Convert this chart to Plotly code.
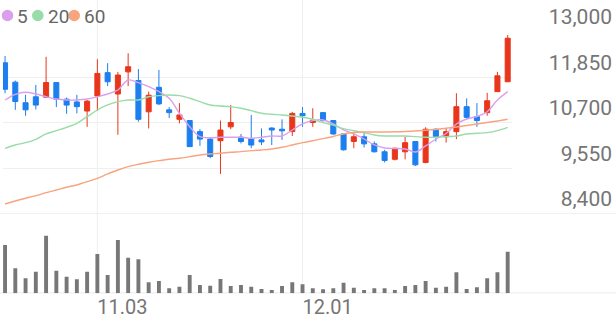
import plotly.graph_objects as go

# ---------------- data ----------------
dates = ["10.21", "10.24", "10.25", "10.26", "10.27", "10.28", "10.31", "11.01", "11.02", "11.03",
         "11.04", "11.07", "11.08", "11.09", "11.10", "11.11", "11.14", "11.15", "11.16", "11.17",
         "11.18", "11.21", "11.22", "11.23", "11.24", "11.25", "11.28", "11.29", "11.30", "12.01",
         "12.02", "12.05", "12.06", "12.07", "12.08", "12.09", "12.12", "12.13", "12.14", "12.15",
         "12.16", "12.19", "12.20", "12.21", "12.22", "12.23", "12.26", "12.27", "12.28", "12.29"]

opens = [12210, 11720, 11200, 11350, 11340, 11710, 11290, 11220, 10990, 11370,
         11960, 11420, 11980, 11760, 10970, 11590, 11020, 10780, 10750, 10470,
         10280, 10240, 10590, 10330, 10280, 10260, 10560, 10530, 10470, 10930,
         10700, 10950, 10750, 10410, 10220, 10340, 10160, 9960, 9770, 9960,
         10220, 9690, 10530, 10340, 10470, 11100, 10850, 10950, 11480, 11730]
highs = [12380, 11760, 11400, 11650, 12360, 11720, 11330, 11400, 11270, 12300,
         12200, 11980, 12450, 12050, 11480, 12030, 11090, 11190, 10760, 10530,
         10330, 10750, 11140, 10410, 10890, 10550, 10580, 10780, 10970, 11090,
         11060, 10960, 10760, 10420, 10430, 10430, 10220, 10010, 10060, 10340,
         10230, 10580, 10550, 10550, 11440, 11310, 11190, 11450, 11980, 12910]
lows = [11440, 11020, 10870, 11030, 11320, 11090, 10920, 10930, 10590, 10990,
        11620, 10390, 11620, 10720, 10550, 11140, 10810, 10680, 10080, 10110,
        9800, 9400, 10530, 10170, 10050, 10130, 10130, 10260, 10360, 10590,
        10590, 10720, 10390, 9990, 10050, 10070, 9940, 9690, 9740, 9770,
        9600, 9670, 10220, 10190, 10280, 10780, 10590, 10870, 11470, 11720]
closes = [11540, 11230, 11020, 11140, 11710, 11290, 11140, 11100, 11240, 11940,
          11730, 11900, 12110, 10780, 11390, 11170, 10950, 10890, 10090, 10280,
          9840, 10510, 10700, 10220, 10130, 10210, 10510, 10490, 10930, 10870,
          10760, 10750, 10410, 10010, 10340, 10160, 9960, 9740, 10050, 10190,
          9630, 10530, 10340, 10470, 11100, 10830, 10750, 11250, 11880, 12830]

ma5 = [11269, 11413, 11464, 11421, 11352, 11294, 11269, 11269, 11294, 11352,
       11421, 11522, 11774, 11706, 11605, 11479, 11312, 10933, 10594, 10342,
       10316, 10326, 10326, 10326, 10301, 10326, 10359, 10359, 10511, 10663,
       10746, 10764, 10663, 10511, 10410, 10283, 10132, 10056, 10043, 10031,
       9955, 10107, 10283, 10422, 10663, 10789, 10852, 10973, 11269, 11479]
ma20 = [10048, 10132, 10190, 10276, 10410, 10493, 10579, 10680, 10847, 11016,
        11143, 11226, 11269, 11269, 11352, 11378, 11395, 11378, 11312, 11226,
        11143, 11117, 11100, 11059, 10999, 10933, 10908, 10890, 10865, 10832,
        10781, 10695, 10637, 10544, 10493, 10443, 10385, 10359, 10359, 10359,
        10342, 10326, 10326, 10342, 10359, 10410, 10428, 10443, 10493, 10579]
ma60 = [8641, 8717, 8785, 8851, 8926, 8995, 9063, 9121, 9204, 9290,
        9399, 9500, 9583, 9644, 9695, 9735, 9771, 9796, 9836, 9879,
        9904, 9922, 9947, 9963, 9988, 10006, 10031, 10074, 10132, 10190,
        10240, 10291, 10347, 10410, 10448, 10460, 10460, 10460, 10465, 10473,
        10486, 10503, 10524, 10554, 10587, 10625, 10663, 10700, 10738, 10781]

volumes = [483, 250, 150, 216, 576, 226, 166, 140, 216, 393,
           183, 533, 356, 340, 110, 123, 50, 66, 183, 83,
           76, 143, 73, 83, 66, 43, 33, 73, 110, 90,
           50, 40, 50, 106, 56, 33, 50, 50, 33, 73,
           83, 123, 56, 66, 210, 43, 60, 150, 210, 416]

price_ticks = [8400, 9550, 10700, 11850, 13000]
date_ticks = ["11.03", "12.01"]
ma_names = ["5", "20", "60"]

# ---------------- style ----------------
W, H = 616, 321
RED = "#e8361c"
BLUE = "#1c7fef"
MA_COLORS = ["#dba0ec", "#98dca9", "#f8a47e"]
GRID = "#efefef"
SEP = "#e4e4e4"
TXT = "#757575"
FONT = "Roboto"


def fx(px):
    return px / W


def fy(py):
    return 1 - py / H


fig = go.Figure()

fig.add_trace(go.Candlestick(
    x=dates, open=opens, high=highs, low=lows, close=closes,
    increasing=dict(line=dict(color=RED, width=1), fillcolor=RED),
    decreasing=dict(line=dict(color=BLUE, width=1), fillcolor=BLUE),
    whiskerwidth=0, showlegend=False, hoverinfo="skip",
    xaxis="x", yaxis="y"))

for name, vals, col in zip(ma_names, [ma5, ma20, ma60], MA_COLORS):
    fig.add_trace(go.Scatter(
        x=dates, y=vals, mode="lines", name=name,
        line=dict(color=col, width=1.4, shape="spline"),
        showlegend=False, hoverinfo="skip", xaxis="x", yaxis="y"))

fig.add_trace(go.Bar(
    x=dates, y=volumes, marker=dict(color="#777777", line=dict(width=0)),
    width=0.38, showlegend=False, hoverinfo="skip", xaxis="x2", yaxis="y2"))

xdom = [fx(3), fx(512)]
xr = [-0.2, len(dates) - 1 + 0.42]

shapes = []
# vertical grid lines at date ticks
for d in date_ticks:
    i = dates.index(d)
    shapes.append(dict(type="line", xref="x", yref="paper", x0=i, x1=i,
                       y0=fy(293.3), y1=1, line=dict(color=GRID, width=1), layer="below"))
# separators
shapes.append(dict(type="line", xref="paper", yref="y", x0=0, x1=1,
                   y0=price_ticks[0], y1=price_ticks[0], line=dict(color=SEP, width=1.2), layer="below"))
shapes.append(dict(type="line", xref="paper", yref="y2", x0=0, x1=1,
                   y0=0, y1=0, line=dict(color=SEP, width=1.5), layer="below"))

# legend: circles + text
leg_circle_x = [7.5, 37.8, 74.2]
leg_text_x = [15, 45.5, 82]
annotations = []
for cx, tx, name, col in zip(leg_circle_x, leg_text_x, ma_names, MA_COLORS):
    shapes.append(dict(type="circle", xref="paper", yref="paper",
                       xsizemode="pixel", ysizemode="pixel",
                       xanchor=fx(cx), yanchor=fy(15.5),
                       x0=-5.8, x1=5.8, y0=-5.8, y1=5.8,
                       fillcolor=col, line=dict(width=0)))
    annotations.append(dict(xref="paper", yref="paper", x=fx(tx), y=fy(16),
                            xanchor="left", yanchor="middle", showarrow=False,
                            text=name, font=dict(family=FONT, size=19, color="#666666")))

fig.update_layout(
    width=W, height=H,
    margin=dict(l=0, r=0, t=0, b=0, autoexpand=False),
    paper_bgcolor="white", plot_bgcolor="white",
    showlegend=False,
    font=dict(family=FONT, color=TXT),
    shapes=shapes,
    annotations=annotations,
    xaxis=dict(domain=xdom, type="category", range=xr, anchor="y", automargin=False,
               showticklabels=False, showgrid=False, zeroline=False,
               showline=False, ticks="", rangeslider=dict(visible=False)),
    xaxis2=dict(domain=xdom, type="category", range=xr, anchor="y2", matches="x",
                automargin=False,
                tickmode="array", tickvals=date_ticks, ticktext=date_ticks,
                ticklabelposition="outside right",
                tickfont=dict(family=FONT, size=20, color=TXT),
                showgrid=False, zeroline=False, showline=False, ticks=""),
    yaxis=dict(domain=[fy(213.5), fy(31.5)], range=[price_ticks[0], price_ticks[-1]],
               automargin=False,
               tickmode="array", tickvals=price_ticks, tickformat=",d",
               side="right", anchor="free", position=fx(615),
               ticklabelposition="inside top", ticklabeloverflow="allow",
               tickfont=dict(family=FONT, size=21, color=TXT),
               showgrid=True, gridcolor=GRID, gridwidth=1,
               zeroline=False, showline=False, ticks=""),
    yaxis2=dict(domain=[fy(293.3), fy(225)], range=[0, 683], anchor="x2",
                automargin=False,
                showticklabels=False, showgrid=False, zeroline=False, ticks=""),
)

fig.write_html("out.html")
